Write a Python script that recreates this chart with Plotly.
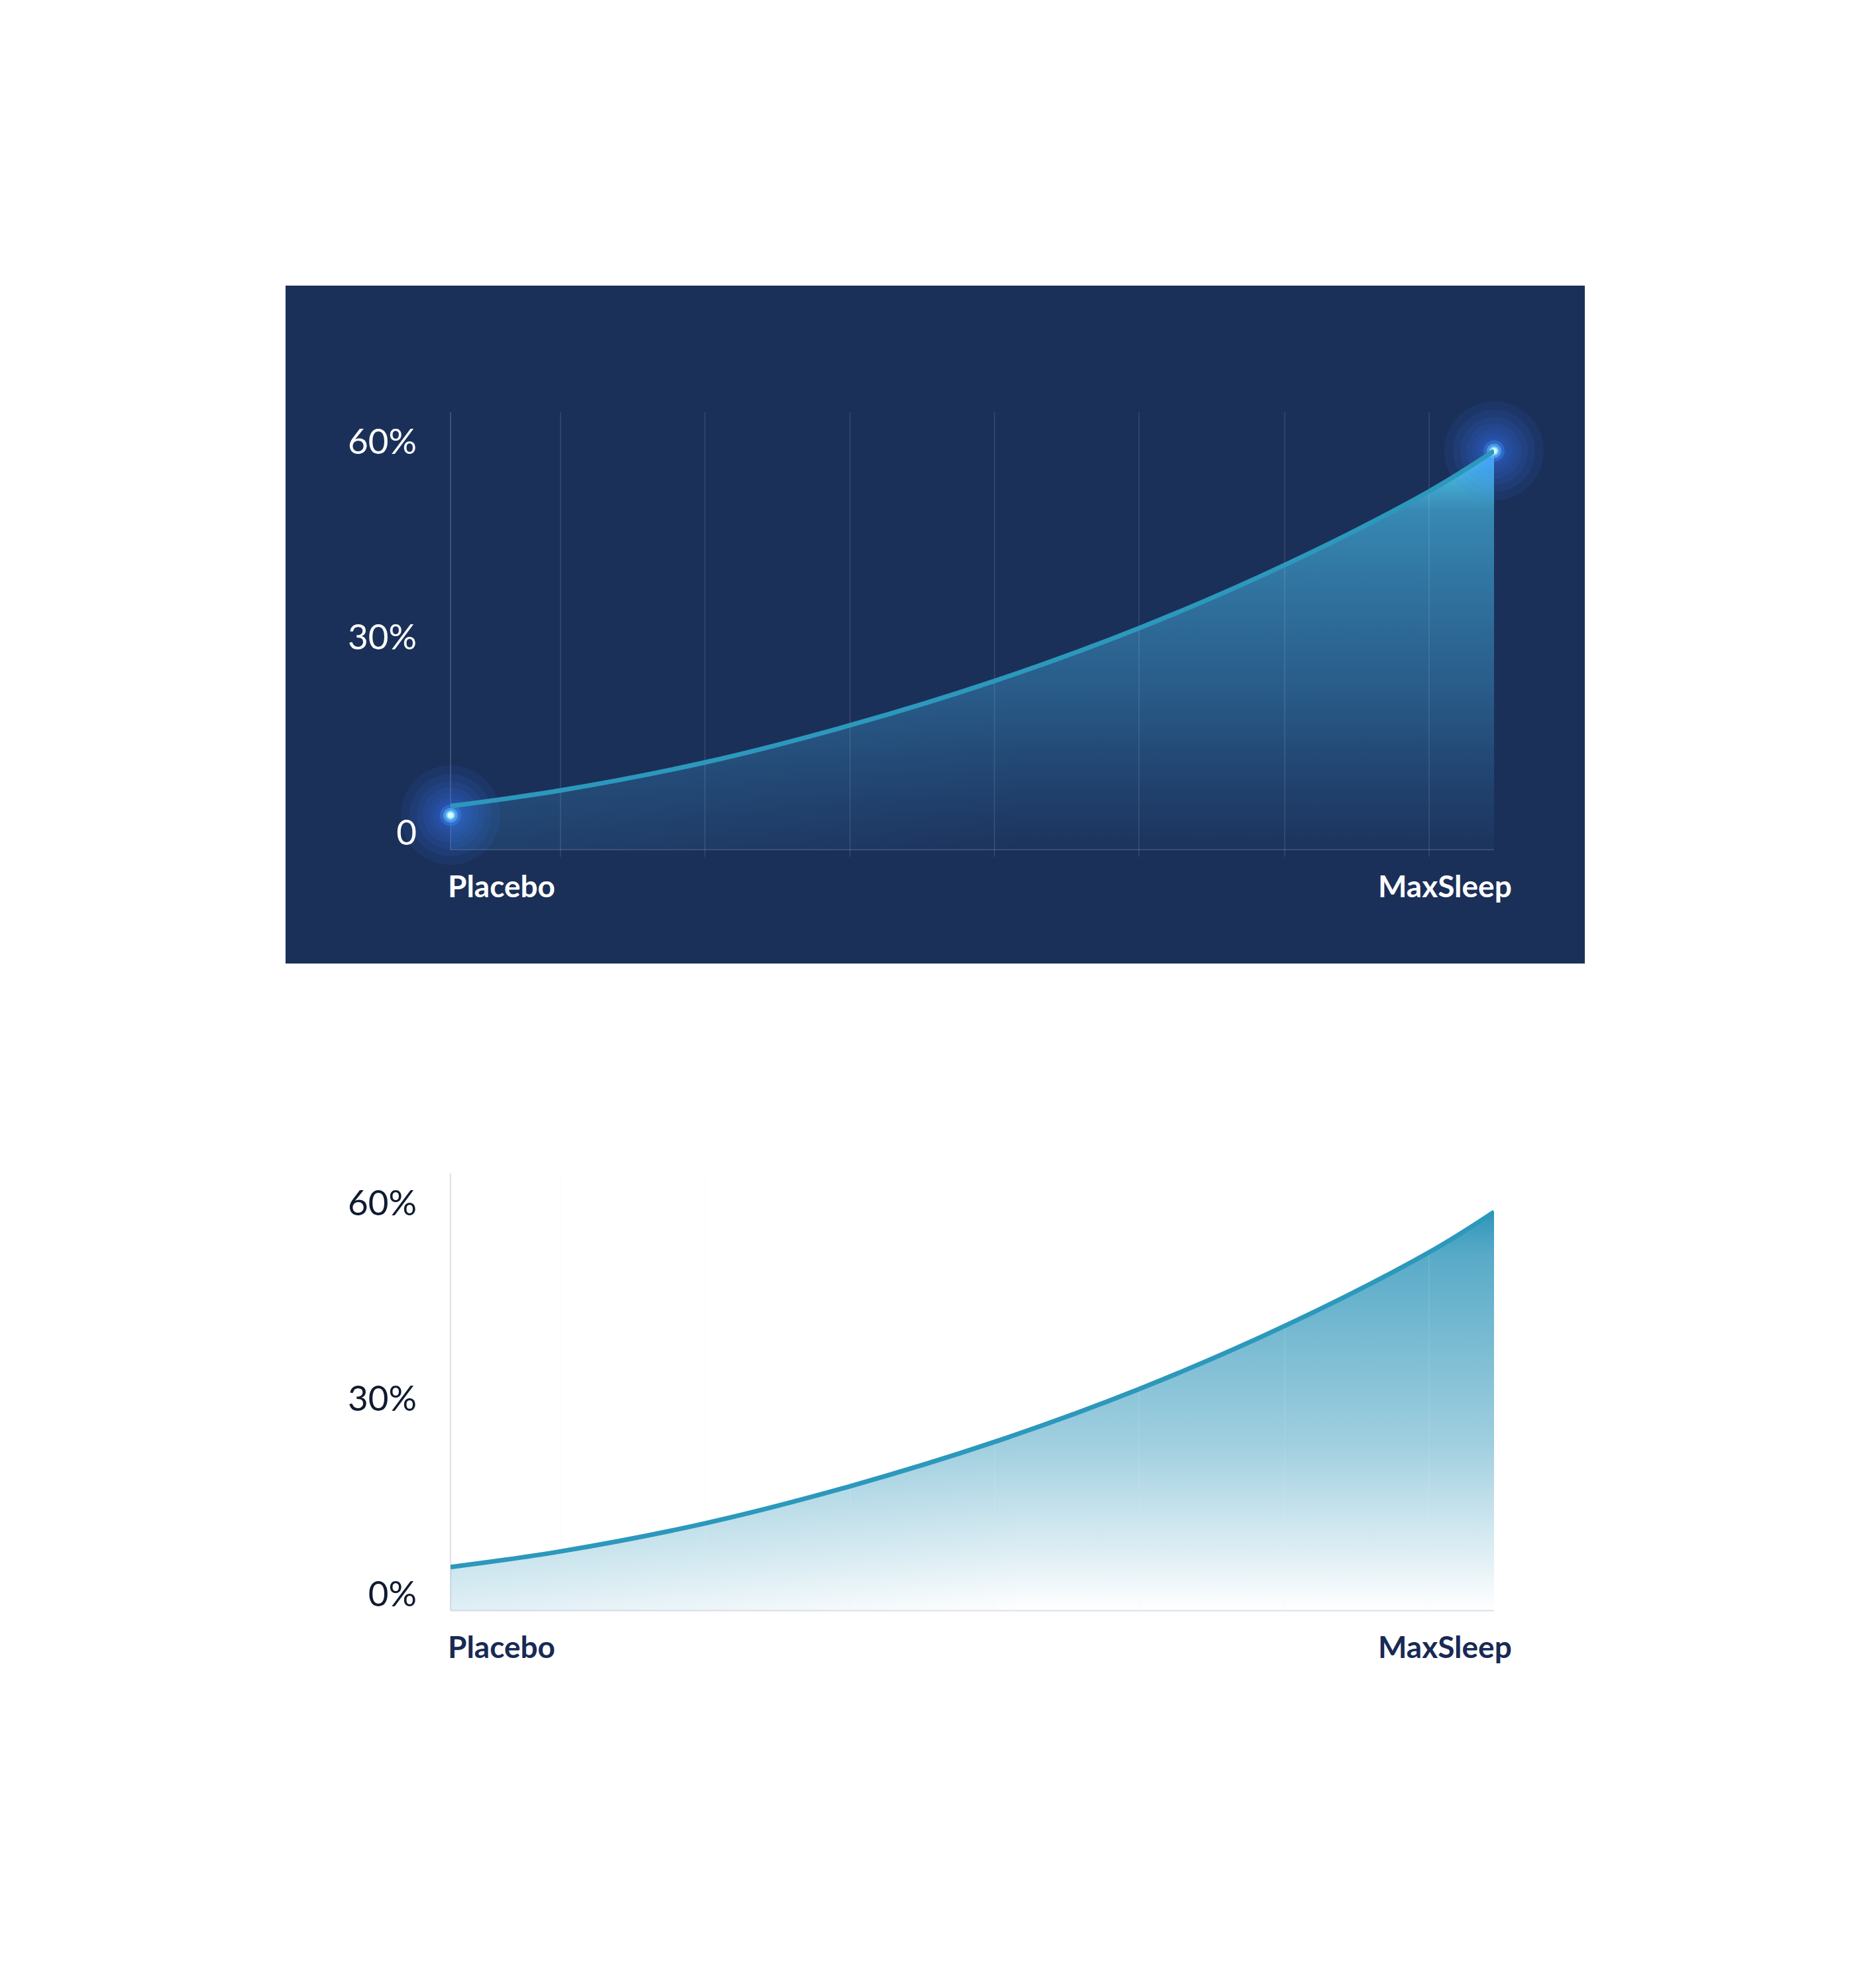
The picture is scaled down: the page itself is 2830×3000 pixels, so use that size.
import plotly.graph_objects as go

W, H = 2830, 3000
PAGE_PAD = 8  # the browser body margin moves the figure by 8 px

# values (percent)
categories = ["Placebo", "MaxSleep"]
curve_x = [0, 0.1054, 0.2438, 0.3829, 0.5213, 0.6597, 0.7994, 0.9378, 1.0]
curve_y = [4.1, 6.5, 10.8, 16.5, 23.3, 31.4, 41.1, 52.4, 58.6]
grid_x = [0.1054, 0.2438, 0.3829, 0.5213, 0.6597, 0.7994, 0.9378]
tick_vals = [0, 30, 60]
tick_text_dark = ["0", "30%", "60%"]
tick_text_light = ["0%", "30%", "60%"]
glow_x = [0, 1]
glow_y = [2.7, 58.6]
base_y = -2.6
y_range = [-3.69, 64.55]

NAVY = "#1b3059"
TEAL = "#2c98bc"
FONT = "Lato"


def px(p):
    """pixel column -> paper x"""
    return (p - PAGE_PAD) / W


def py(p):
    """pixel row -> paper y"""
    return 1 - (p - PAGE_PAD) / H


def add_chart(fig, n, dark):
    xa = "x" if n == 1 else "x%d" % n
    ya = "y" if n == 1 else "y%d" % n
    off = 0 if n == 1 else 1148.3

    if dark:
        v_scale = [[0, "rgba(50,120,175,0.05)"], [0.4, "rgba(55,135,185,0.5)"],
                   [0.85, "rgba(65,168,212,0.74)"], [0.95, "rgba(80,205,240,0.88)"],
                   [1, "rgba(100,240,255,1)"]]
        h_scale = [[0, "rgba(60,140,190,0.15)"], [0.55, "rgba(60,140,190,0)"],
                   [1, "rgba(60,140,190,0)"]]
        grid_col = "rgba(255,255,255,0.12)"
        tick_col = "white"
        lab_col = "white"
        ticktext = tick_text_dark
    else:
        v_scale = [[0, "rgba(52,152,188,0.0)"], [0.42, "rgba(52,152,188,0.47)"],
                   [0.89, "rgba(52,152,188,0.82)"], [1, "rgba(50,150,186,1)"]]
        h_scale = [[0, "rgba(52,152,188,0.15)"], [0.55, "rgba(52,152,188,0)"],
                   [1, "rgba(52,152,188,0)"]]
        grid_col = "rgba(235,240,244,0.14)"
        tick_col = "#0f1b30"
        lab_col = "#182a55"
        ticktext = tick_text_light

    common = dict(xaxis=xa, yaxis=ya, showlegend=False, hoverinfo="skip")
    for kind, scale, st, sp in [("vertical", v_scale, base_y, max(curve_y)),
                                ("horizontal", h_scale, 0, 1)]:
        fig.add_trace(go.Scatter(x=[0, 1], y=[base_y, base_y], mode="lines",
                                 line=dict(width=0), **common))
        fig.add_trace(go.Scatter(
            x=curve_x, y=curve_y, mode="lines",
            line=dict(width=0, shape="spline"), fill="tonexty",
            fillgradient=dict(type=kind, colorscale=scale, start=st, stop=sp),
            **common))

    gx, gy = [], []
    for g in grid_x:
        gx += [g, g, None]
        gy += [y_range[0], y_range[1], None]
    fig.add_trace(go.Scatter(x=gx, y=gy, mode="lines",
                             line=dict(color=grid_col, width=1.5), **common))

    if dark:
        # soft glow built from stacked translucent discs
        halo = [(s, "rgba(55,125,255,0.09)") for s in (150, 124, 102, 84, 68, 54, 42)]
        halo += [(32, "rgba(70,150,255,0.35)"), (22, "rgba(100,190,255,0.55)"),
                 (14, "rgba(140,225,255,0.8)"), (9, "rgba(215,252,255,1)")]
        for size, c in halo:
            fig.add_trace(go.Scatter(
                x=glow_x, y=glow_y, mode="markers", cliponaxis=False,
                marker=dict(size=size, color=c, line=dict(width=0)),
                **common))

    fig.add_trace(go.Scatter(x=curve_x, y=curve_y, mode="lines",
                             line=dict(color=TEAL, width=7, shape="spline"),
                             **common))

    dom_y = [py(1293 + off), py(622 + off)]
    fig.update_layout(**{
        ("xaxis" if n == 1 else "xaxis%d" % n): dict(
            domain=[px(680), px(2255)], range=[0, 1], anchor=ya,
            showgrid=False, zeroline=False, showticklabels=False,
            showline=False, ticks=""),
        ("yaxis" if n == 1 else "yaxis%d" % n): dict(
            domain=dom_y, range=y_range, anchor=xa,
            showgrid=False, zeroline=False, showline=False, ticks="",
            tickvals=tick_vals, ticktext=ticktext, ticklabelstandoff=50,
            tickfont=dict(family=FONT, size=53, color=tick_col)),
    })

    axis_col = "rgba(255,255,255,0.22)" if dark else "#d4d4e2"
    base_col = "rgba(255,255,255,0.18)" if dark else "#e4e6ec"
    fig.add_shape(type="line", xref="paper", yref="paper",
                  x0=px(680), x1=px(680), y0=py(1282.7 + off), y1=py(622 + off),
                  line=dict(color=axis_col, width=1.5), layer="below")
    fig.add_shape(type="line", xref=xa, yref=ya, x0=0, x1=1,
                  y0=base_y, y1=base_y,
                  line=dict(color=base_col, width=1.5 if dark else 2.5),
                  layer="below")

    for cat, xv, anchor, shift in [(categories[0], 0, "left", -6),
                                   (categories[1], 1, "right", 29)]:
        fig.add_annotation(x=xv, y=base_y, xref=xa, yref=ya, text="<b>%s</b>" % cat,
                           showarrow=False, xanchor=anchor, yanchor="middle",
                           xshift=shift, yshift=-54,
                           font=dict(family=FONT, size=46, color=lab_col))


fig = go.Figure()
fig.add_shape(type="rect", xref="paper", yref="paper",
              x0=px(431), x1=px(2392), y0=py(1454), y1=py(431),
              fillcolor=NAVY, line=dict(width=0), layer="below")
add_chart(fig, 1, dark=True)
add_chart(fig, 2, dark=False)

fig.update_layout(width=W, height=H, margin=dict(l=0, r=0, t=0, b=0),
                  paper_bgcolor="white", plot_bgcolor="rgba(0,0,0,0)",
                  showlegend=False, font=dict(family=FONT))

fig.write_html("out.html")
